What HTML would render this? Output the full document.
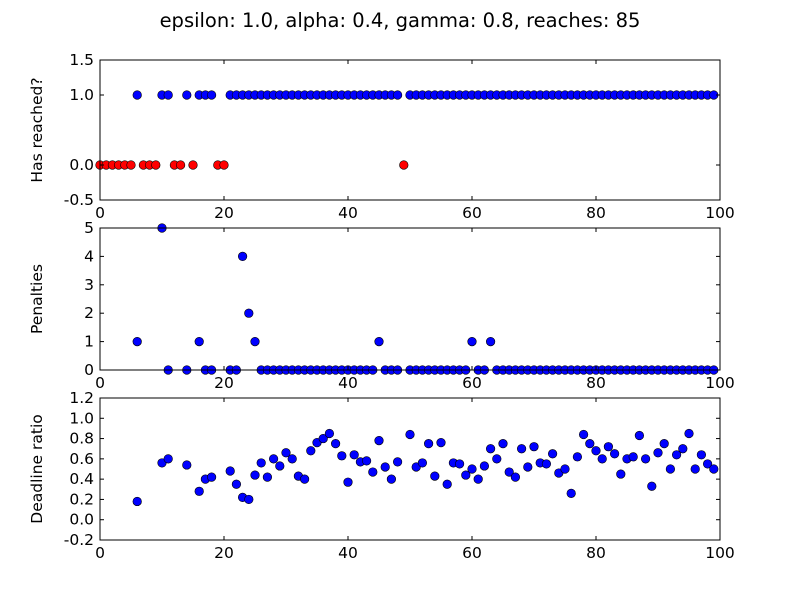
<!DOCTYPE html>
<html><head><meta charset="utf-8"><style>body{margin:0;background:#fff}svg{display:block;font-family:"DejaVu Sans","Liberation Sans",sans-serif}</style></head>
<body>
<svg id="chart" width="800" height="600">
<rect width="800" height="600" fill="#fff"/>
<text x="400" y="27" text-anchor="middle" font-size="19.5">epsilon: 1.0, alpha: 0.4, gamma: 0.8, reaches: 85</text>
</svg>
<script>
const reachedEpisodes = [0,1,2,3,4,5,6,7,8,9,10,11,12,13,14,15,16,17,18,19,20,21,22,23,24,25,26,27,28,29,30,31,32,33,34,35,36,37,38,39,40,41,42,43,44,45,46,47,48,49,50,51,52,53,54,55,56,57,58,59,60,61,62,63,64,65,66,67,68,69,70,71,72,73,74,75,76,77,78,79,80,81,82,83,84,85,86,87,88,89,90,91,92,93,94,95,96,97,98,99];
const reachedValues = [0,0,0,0,0,0,1,0,0,0,1,1,0,0,1,0,1,1,1,0,0,1,1,1,1,1,1,1,1,1,1,1,1,1,1,1,1,1,1,1,1,1,1,1,1,1,1,1,1,0,1,1,1,1,1,1,1,1,1,1,1,1,1,1,1,1,1,1,1,1,1,1,1,1,1,1,1,1,1,1,1,1,1,1,1,1,1,1,1,1,1,1,1,1,1,1,1,1,1,1];
const successEpisodes = [6,10,11,14,16,17,18,21,22,23,24,25,26,27,28,29,30,31,32,33,34,35,36,37,38,39,40,41,42,43,44,45,46,47,48,50,51,52,53,54,55,56,57,58,59,60,61,62,63,64,65,66,67,68,69,70,71,72,73,74,75,76,77,78,79,80,81,82,83,84,85,86,87,88,89,90,91,92,93,94,95,96,97,98,99];
const penalties = [1,5,0,0,1,0,0,0,0,4,2,1,0,0,0,0,0,0,0,0,0,0,0,0,0,0,0,0,0,0,0,1,0,0,0,0,0,0,0,0,0,0,0,0,0,1,0,0,1,0,0,0,0,0,0,0,0,0,0,0,0,0,0,0,0,0,0,0,0,0,0,0,0,0,0,0,0,0,0,0,0,0,0,0,0];
const deadlineRatios = [0.18,0.56,0.60,0.54,0.28,0.40,0.42,0.48,0.35,0.22,0.20,0.44,0.56,0.42,0.60,0.53,0.66,0.60,0.43,0.40,0.68,0.76,0.80,0.85,0.75,0.63,0.37,0.64,0.57,0.58,0.47,0.78,0.52,0.40,0.57,0.84,0.52,0.56,0.75,0.43,0.76,0.35,0.56,0.55,0.44,0.50,0.40,0.53,0.70,0.60,0.75,0.47,0.42,0.70,0.52,0.72,0.56,0.55,0.65,0.46,0.50,0.26,0.62,0.84,0.75,0.68,0.60,0.72,0.65,0.45,0.60,0.62,0.83,0.60,0.33,0.66,0.75,0.50,0.64,0.70,0.85,0.50,0.64,0.55,0.50];
const xTicks = [0,20,40,60,80,100];
const ticks1 = ["-0.5","0.0","1.0","1.5"];
const ticks2 = ["0","1","2","3","4","5"];
const ticks3 = ["-0.2","0.0","0.2","0.4","0.6","0.8","1.0","1.2"];

const svg = document.getElementById('chart');
const NS = 'http://www.w3.org/2000/svg';
function mk(tag, attrs, parent){const e=document.createElementNS(NS,tag);for(const k in attrs)e.setAttribute(k,attrs[k]);(parent||svg).appendChild(e);return e;}
const L=100,R=720;
const xs = v => L + (v/100)*(R-L);

function panel(name, top, bot, ymin, ymax, yticks, ylabel, xsArr, ysArr, colorFn){
  const g = mk('g',{});
  
  
  const ys = v => bot - (v-ymin)/(ymax-ymin)*(bot-top);
  mk('rect',{x:L,y:top,width:R-L,height:bot-top,fill:'#fff'},g);
  xsArr.forEach((xv,i)=>{
    const c = mk('circle',{cx:xs(xv),cy:ys(ysArr[i]),r:4.3,fill:colorFn(ysArr[i]),stroke:'#000','stroke-width':0.6},g);
    
    
  });
  mk('rect',{x:L,y:top,width:R-L,height:bot-top,fill:'none',stroke:'#000','stroke-width':1},g);
  xTicks.forEach(t=>{
    const x=xs(t);
    mk('line',{x1:x,y1:bot,x2:x,y2:bot-4,stroke:'#000'},g);
    mk('line',{x1:x,y1:top,x2:x,y2:top+4,stroke:'#000'},g);
    const tx=mk('text',{x:x,y:bot+18,'text-anchor':'middle','font-size':15.5},g);
    tx.textContent=t;
    
    
  });
  yticks.forEach(t=>{
    const y=ys(parseFloat(t));
    mk('line',{x1:L,y1:y,x2:L+4,y2:y,stroke:'#000'},g);
    mk('line',{x1:R,y1:y,x2:R-4,y2:y,stroke:'#000'},g);
    const tx=mk('text',{x:L-6,y:y+5,'text-anchor':'end','font-size':15.5},g);
    tx.textContent=t;
    
    
  });
  const cy=(top+bot)/2;
  const yl=mk('text',{x:42,y:cy,'text-anchor':'middle','font-size':15.5,transform:`rotate(-90 42 ${cy})`},g);
  yl.textContent=ylabel;
  
  
}
panel('has-reached',60,200,-0.5,1.5,ticks1,'Has reached?',reachedEpisodes,reachedValues,v=>v>=1?'#0000ff':'#ff0000');
panel('penalties',228,370,0,5,ticks2,'Penalties',successEpisodes,penalties,()=> '#0000ff');
panel('deadline-ratio',398,540,-0.2,1.2,ticks3,'Deadline ratio',successEpisodes,deadlineRatios,()=> '#0000ff');
</script>
</body></html>
